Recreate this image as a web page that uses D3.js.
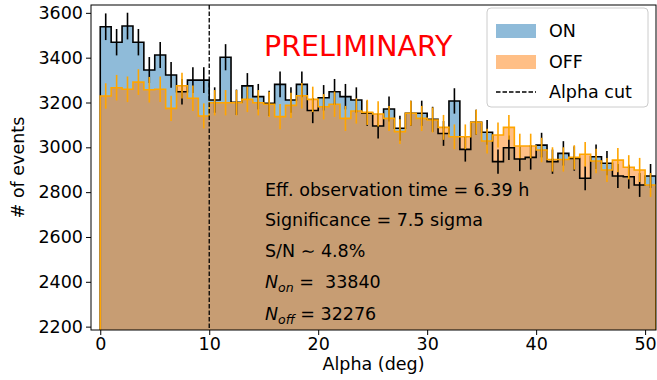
<!DOCTYPE html>
<html>
<head>
<meta charset="utf-8">
<script src="https://cdn.jsdelivr.net/npm/d3@7"></script>
<style>
  body { margin: 0; background: #fff; }
  text { font-family: "DejaVu Sans", sans-serif; }
</style>
</head>
<body>
<div id="chart"></div>
<script>
// Histogram counts per 1 deg alpha bin.
var onCounts = [3538, 3469, 3541, 3469, 3345, 3412, 3323, 3248, 3300, 3300,
                3211, 3402, 3201, 3274, 3226, 3196, 3281, 3211, 3281, 3164,
                3221, 3248, 3226, 3211, 3152, 3095, 3171, 3085, 3152, 3152,
                3125, 3062, 3207, 2991, 3112, 3067, 2936, 2998, 2948, 2955,
                3010, 2936, 2973, 2950, 2862, 2958, 2929, 2872, 2869, 2832, 2872];
var offCounts = [3229, 3266, 3259, 3291, 3257, 3259, 3174, 3275, 3219, 3140,
                 3199, 3199, 3199, 3214, 3199, 3192, 3137, 3187, 3230, 3214,
                 3181, 3192, 3129, 3162, 3156, 3149, 3129, 3070, 3152, 3129,
                 3122, 3089, 3047, 3047, 3112, 3028, 3055, 3089, 3006, 3006,
                 2988, 2946, 2946, 2955, 2969, 2939, 2899, 2943, 2911, 2899, 2832];
var binWidth = 1;
var alphaCut = 10;
var xTicks = [0, 10, 20, 30, 40, 50];
var yTicks = [2200, 2400, 2600, 2800, 3000, 3200, 3400, 3600];
var legendNames = ["ON", "OFF", "Alpha cut"];

// Dimensions
var width = 657;
var height = 380;
var plot = { left: 91, right: 656, top: 5, bottom: 330 };

var blue = "#1f77b4";
var orangeFill = "#ff7f0e";
var orangeLine = "#ffa500";

var svg = d3.select("#chart").append("svg")
    .attr("width", width)
    .attr("height", height);

var x = d3.scaleLinear().domain([-0.85, 51]).range([plot.left, plot.right]);
var y = d3.scaleLinear().domain([2185, 3635]).range([plot.bottom, plot.top]);

svg.append("clipPath").attr("id", "clip")
  .append("rect")
    .attr("x", plot.left).attr("y", plot.top)
    .attr("width", plot.right - plot.left)
    .attr("height", plot.bottom - plot.top);

var g = svg.append("g").attr("clip-path", "url(#clip)");

// Build step outline points from counts, starting and ending at the baseline.
function stepPoints(counts) {
  var base = 0;
  var pts = [[0, base]];
  counts.forEach(function(c, i) {
    pts.push([i * binWidth, c]);
    pts.push([(i + 1) * binWidth, c]);
  });
  pts.push([counts.length * binWidth, base]);
  return pts;
}

var line = d3.line()
    .x(function(d) { return x(d[0]); })
    .y(function(d) { return Math.min(y(d[1]), 2000); });

// Filled histograms
g.append("path")
    .attr("d", line(stepPoints(onCounts)) + "Z")
    .attr("fill", blue).attr("fill-opacity", 0.5);
g.append("path")
    .attr("d", line(stepPoints(offCounts)) + "Z")
    .attr("fill", orangeFill).attr("fill-opacity", 0.5);

// Step outlines
g.append("path")
    .attr("d", line(stepPoints(onCounts)))
    .attr("fill", "none").attr("stroke", "#000").attr("stroke-width", 1.6);
g.append("path")
    .attr("d", line(stepPoints(offCounts)))
    .attr("fill", "none").attr("stroke", orangeLine).attr("stroke-width", 1.6);

// Error bars (Poisson)
function errorBars(counts, color) {
  g.selectAll(null)
    .data(counts)
    .enter().append("line")
      .attr("x1", function(d, i) { return x((i + 0.5) * binWidth); })
      .attr("x2", function(d, i) { return x((i + 0.5) * binWidth); })
      .attr("y1", function(d) { return y(d - Math.sqrt(d)); })
      .attr("y2", function(d) { return y(d + Math.sqrt(d)); })
      .attr("stroke", color)
      .attr("stroke-width", 1.6);
}
errorBars(onCounts, "#000");
errorBars(offCounts, orangeLine);

// Alpha cut
g.append("line")
    .attr("x1", x(alphaCut)).attr("x2", x(alphaCut))
    .attr("y1", plot.top).attr("y2", plot.bottom)
    .attr("stroke", "#000").attr("stroke-width", 1.3)
    .attr("stroke-dasharray", "4.5,2");

// Axes
var fontSize = 17.5;
var xAxis = svg.append("g")
    .attr("transform", "translate(0," + plot.bottom + ")")
    .call(d3.axisBottom(x).tickValues(xTicks).tickSize(5).tickPadding(3).tickFormat(d3.format("d")));
var yAxis = svg.append("g")
    .attr("transform", "translate(" + plot.left + ",0)")
    .call(d3.axisLeft(y).tickValues(yTicks).tickSize(5).tickPadding(3).tickFormat(d3.format("d")));
[xAxis, yAxis].forEach(function(a) {
  a.select(".domain").remove();
  a.selectAll("text").attr("font-size", fontSize).attr("fill", "#000")
    .attr("font-family", "DejaVu Sans, sans-serif");
  a.selectAll("line").attr("stroke", "#000");
});

svg.append("rect")
    .attr("x", plot.left).attr("y", plot.top)
    .attr("width", plot.right - plot.left)
    .attr("height", plot.bottom - plot.top)
    .attr("fill", "none").attr("stroke", "#000").attr("stroke-width", 1);

svg.append("text")
    .attr("x", (plot.left + plot.right) / 2).attr("y", 370)
    .attr("text-anchor", "middle").attr("font-size", fontSize)
    .text("Alpha (deg)");
svg.append("text")
    .attr("transform", "translate(24," + ((plot.top + plot.bottom) / 2) + ") rotate(-90)")
    .attr("text-anchor", "middle").attr("font-size", fontSize)
    .text("# of events");

// Annotations
svg.append("text")
    .attr("x", 264).attr("y", 56)
    .attr("font-size", 28.5).attr("fill", "#ff0000")
    .text("PRELIMINARY");

var info = svg.append("g").attr("font-size", fontSize);
info.append("text").attr("x", 265).attr("y", 196).text("Eff. observation time = 6.39 h");
info.append("text").attr("x", 265).attr("y", 226).text("Significance = 7.5 sigma");
info.append("text").attr("x", 265).attr("y", 257).text("S/N  \u223C 4.8%");
var non = info.append("text").attr("x", 265).attr("y", 288);
non.append("tspan").attr("font-style", "italic").text("N");
non.append("tspan").attr("font-style", "italic").attr("font-size", 12.5).attr("dy", 4).text("on");
non.append("tspan").attr("dy", -4).attr("xml:space", "preserve").text(" =  33840");
var noff = info.append("text").attr("x", 265).attr("y", 320);
noff.append("tspan").attr("font-style", "italic").text("N");
noff.append("tspan").attr("font-style", "italic").attr("font-size", 12.5).attr("dy", 4).text("off");
noff.append("tspan").attr("dy", -4).text(" = 32276");

// Legend
var legend = svg.append("g");
legend.append("rect")
    .attr("x", 487).attr("y", 8).attr("width", 161).attr("height", 99)
    .attr("rx", 4).attr("fill", "#fff").attr("fill-opacity", 0.8)
    .attr("stroke", "#ccc");
var rowY = [31, 62, 92];
legend.append("rect").attr("x", 496).attr("y", rowY[0] - 7).attr("width", 40).attr("height", 14)
    .attr("fill", blue).attr("fill-opacity", 0.5);
legend.append("rect").attr("x", 496).attr("y", rowY[1] - 7).attr("width", 40).attr("height", 14)
    .attr("fill", orangeFill).attr("fill-opacity", 0.5);
legend.append("line").attr("x1", 496).attr("x2", 536).attr("y1", rowY[2]).attr("y2", rowY[2])
    .attr("stroke", "#000").attr("stroke-width", 1.3).attr("stroke-dasharray", "4.5,2");
legend.selectAll("text.lab")
  .data(legendNames)
  .enter().append("text")
    .attr("x", 549)
    .attr("y", function(d, i) { return rowY[i]; })
    .attr("dy", "0.36em")
    .attr("font-size", fontSize)
    .text(function(d) { return d; });
</script>
</body>
</html>
